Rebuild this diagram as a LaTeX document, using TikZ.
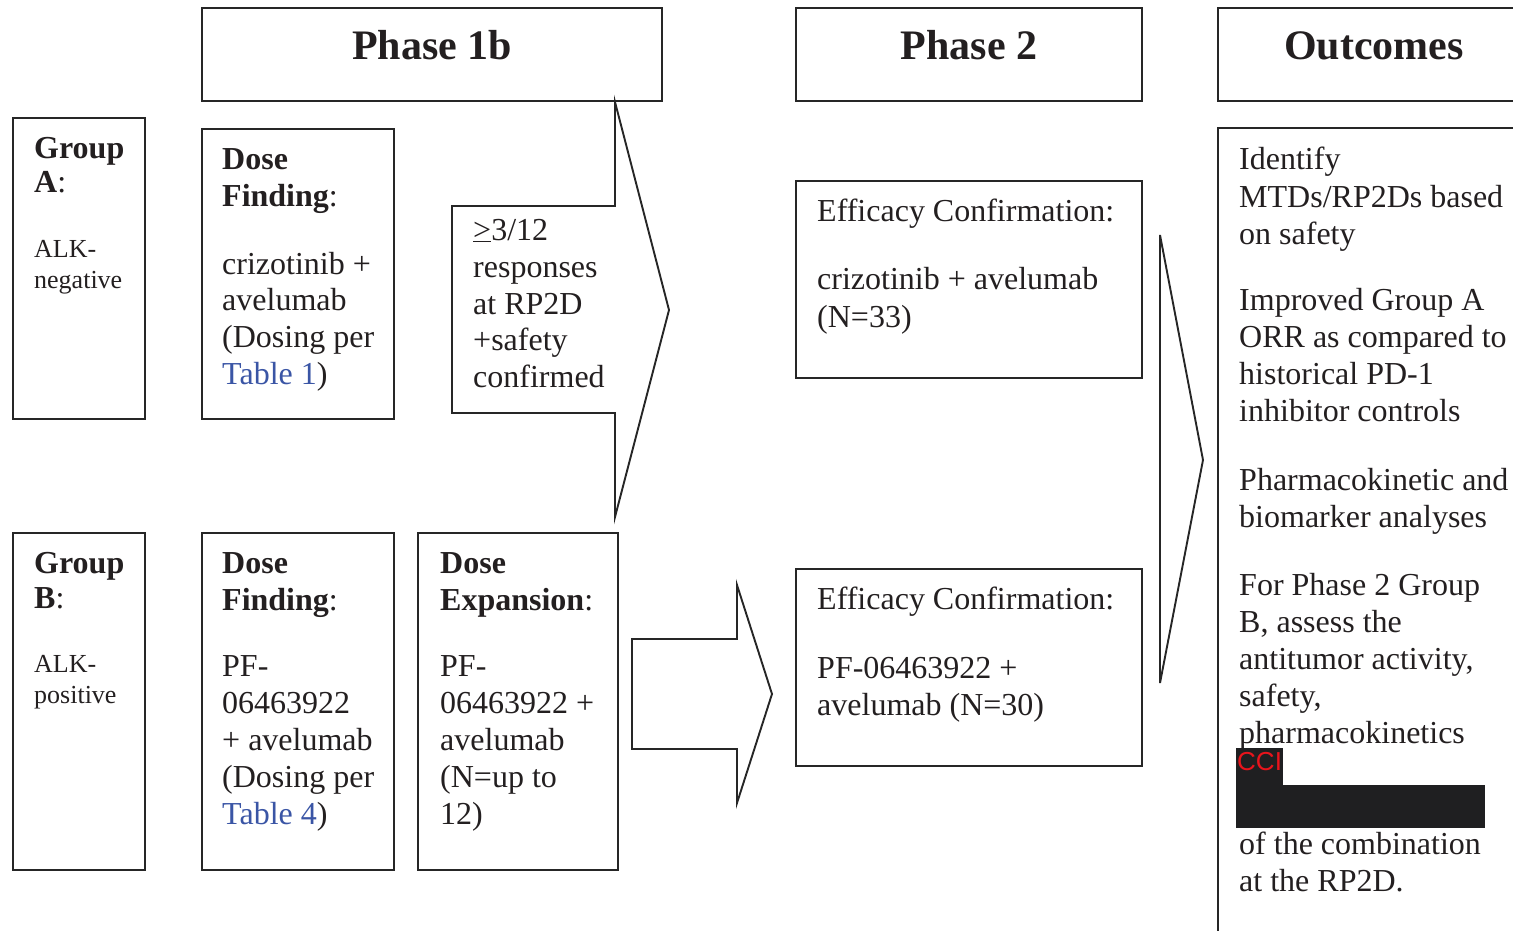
\documentclass[tikz,border=0pt]{standalone}
\usepackage{fontspec}
\setmainfont{Liberation Serif}
\newfontfamily\ccifont{Liberation Sans}
\definecolor{txt}{HTML}{231F20}
\definecolor{ln}{HTML}{262626}
\definecolor{lnk}{HTML}{3A55A5}
\definecolor{ccired}{HTML}{E8141C}
\definecolor{redact}{HTML}{1F1F21}
\newcommand\txtlines[1]{\begin{tabular}[t]{@{}l@{}}#1\end{tabular}}
\begin{document}
\begin{tikzpicture}[x=1pt,y=-1pt,
  box/.style={draw=ln, line width=2pt, anchor=north west, inner sep=0pt, outer sep=0pt},
  body/.style={anchor=base west, inner sep=0pt, text=txt, font=\fontsize{32}{37}\selectfont},
  grp/.style={body, font=\fontsize{32}{35}\selectfont},
  small/.style={body, font=\fontsize{26}{31}\selectfont},
  title/.style={anchor=base, inner sep=0pt, text=txt, font=\fontsize{42}{48}\selectfont\bfseries},
  shapeline/.style={draw=ln, line width=1.9pt, line join=miter}]
\useasboundingbox (0,0) rectangle (1513,931);
\clip (0,0) rectangle (1513,931);

% header boxes
\node[box, minimum width=460pt, minimum height=93pt] (p1b) at (202,8) {};
\node[box, minimum width=346pt, minimum height=93pt] (p2) at (796,8) {};
\node[box, minimum width=312pt, minimum height=93pt] (outc) at (1218,8) {};
\node[title] (p1bt) at (432,60) {Phase 1b};
\node[title] (p2t) at (969,60) {Phase 2};
\node[title] (outct) at (1374,60) {Outcomes};

% group A row
\node[box, minimum width=132pt, minimum height=301pt] (gA) at (13,118) {};
\node[grp] (gAt) at (34,158) {\txtlines{\textbf{Group}\\\textbf{A}:}};
\node[small] (gAs) at (34,257) {\txtlines{ALK-\\negative}};
\node[box, minimum width=192pt, minimum height=290pt] (dfA) at (202,129) {};
\node[body] (dfAt) at (222,169) {\txtlines{\textbf{Dose}\\\textbf{Finding}:\\[31pt]crizotinib +\\avelumab\\(Dosing per\\\textcolor{lnk}{Table 1})}};

% arrow from phase 1b A
\draw[shapeline] (615,102) -- (669,310) -- (615,517) -- (615,413) -- (452,413) -- (452,206) -- (615,206) -- cycle;
\node[body] (crit) at (473,240) {\txtlines{\underline{>}3/12\\responses\\at RP2D\\+safety\\confirmed}};

% group B row
\node[box, minimum width=132pt, minimum height=337pt] (gB) at (13,533) {};
\node[grp] (gBt) at (34,573) {\txtlines{\textbf{Group}\\\textbf{B}:}};
\node[small] (gBs) at (34,672) {\txtlines{ALK-\\positive}};
\node[box, minimum width=192pt, minimum height=337pt] (dfB) at (202,533) {};
\node[body] (dfBt) at (222,573) {\txtlines{\textbf{Dose}\\\textbf{Finding}:\\[29pt]PF-\\06463922\\+ avelumab\\(Dosing per\\\textcolor{lnk}{Table 4})}};
\node[box, minimum width=200pt, minimum height=337pt] (dex) at (418,533) {};
\node[body] (dext) at (440,573) {\txtlines{\textbf{Dose}\\\textbf{Expansion}:\\[29pt]PF-\\06463922 +\\avelumab\\(N=up to\\12)}};

% arrow B
\draw[shapeline] (632,639) -- (737,639) -- (737,585) -- (772,694) -- (737,803) -- (737,749) -- (632,749) -- cycle;

% phase 2
\node[box, minimum width=346pt, minimum height=197pt] (effA) at (796,181) {};
\node[body] (effAt) at (817,221) {\txtlines{Efficacy Confirmation:\\[32pt]crizotinib + avelumab\\(N=33)}};
\node[box, minimum width=346pt, minimum height=197pt] (effB) at (796,569) {};
\node[body] (effBt) at (817,609) {\txtlines{Efficacy Confirmation:\\[32pt]PF-06463922 +\\avelumab (N=30)}};

% chevron
\draw[shapeline] (1160,235) -- (1203,460) -- (1160,683) -- cycle;

% outcomes
\node[box, minimum width=312pt, minimum height=830pt] (outb) at (1218,128) {};
\node[body] (outbt) at (1239,170) {\txtlines{Identify\\MTDs/RP2Ds based\\on safety\\[30pt]Improved Group A\\ORR as compared to\\historical PD-1\\inhibitor controls\\[32pt]Pharmacokinetic and\\biomarker analyses\\[31pt]For Phase 2 Group\\B, assess the\\antitumor activity,\\safety,\\pharmacokinetics\\[74pt]of the combination\\at the RP2D.}};
\fill[redact] (1236,748) rectangle (1283,786);
\fill[redact] (1236,785) rectangle (1485,828);
\node[anchor=base west, inner sep=0pt, text=ccired, font=\ccifont\fontsize{26}{30}\selectfont] (cci) at (1237,770) {CCI};
\end{tikzpicture}
\end{document}
